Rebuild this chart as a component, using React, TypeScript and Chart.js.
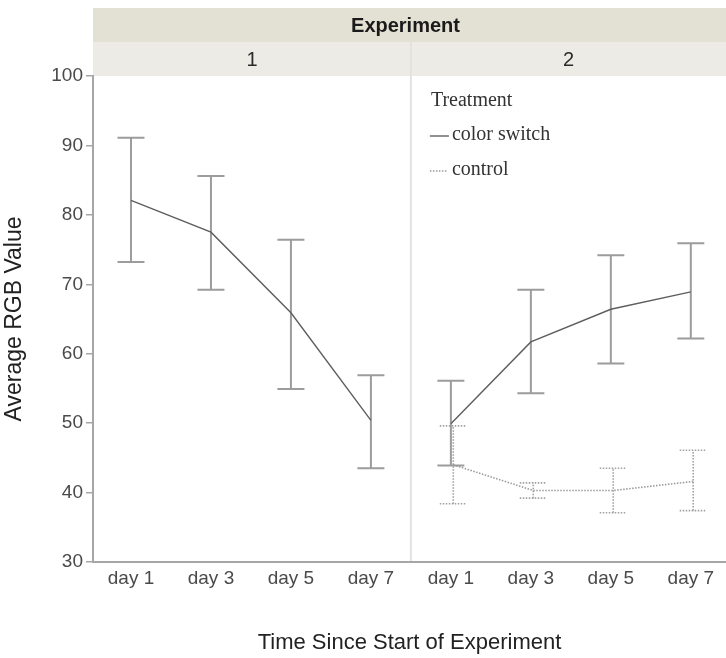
import React, { useEffect, useRef } from 'react';
import { Chart, registerables } from 'chart.js';

Chart.register(...registerables);

// ---- data ----
const days = ['day 1', 'day 3', 'day 5', 'day 7'];
const panels = ['1', '2'];
const stripTitle = 'Experiment';
const legendTitle = 'Treatment';
const treatments = ['color switch', 'control'];

const exp1Switch = [82.1, 77.5, 65.9, 50.4];
const exp1SwitchLow = [73.2, 69.2, 54.9, 43.5];
const exp1SwitchHigh = [91.1, 85.6, 76.4, 56.9];

const exp2Switch = [49.9, 61.7, 66.4, 68.9];
const exp2SwitchLow = [43.9, 54.3, 58.6, 62.2];
const exp2SwitchHigh = [56.1, 69.2, 74.2, 75.9];

const exp2Control = [44.0, 40.3, 40.3, 41.6];
const exp2ControlLow = [38.4, 39.2, 37.1, 37.4];
const exp2ControlHigh = [49.6, 41.4, 43.5, 46.1];

const yTicks = [30, 40, 50, 60, 70, 80, 90, 100];

const SANS = '"Liberation Sans", Arial, Helvetica, sans-serif';
const SERIF = '"Liberation Serif", "Times New Roman", serif';

const pos = (panel: number, i: number, dodge = 0) => panel * days.length + i + 1 + dodge;

const errorBars = {
  id: 'errorBars',
  beforeDatasetsDraw(chart: any) {
    const ctx = chart.ctx;
    const ys = chart.scales.y;
    chart.data.datasets.forEach((ds: any, di: number) => {
      const meta = chart.getDatasetMeta(di);
      ctx.save();
      ctx.strokeStyle = ds.errColor;
      ctx.lineWidth = ds.errWidth;
      ctx.setLineDash(ds.errDash || []);
      meta.data.forEach((pt: any, i: number) => {
        const x = pt.x;
        const yl = ys.getPixelForValue(ds.low[i]);
        const yh = ys.getPixelForValue(ds.high[i]);
        const hw = 13.5;
        ctx.beginPath();
        ctx.moveTo(x, yl);
        ctx.lineTo(x, yh);
        ctx.moveTo(x - hw, yl);
        ctx.lineTo(x + hw, yl);
        ctx.moveTo(x - hw, yh);
        ctx.lineTo(x + hw, yh);
        ctx.stroke();
      });
      ctx.restore();
    });
  },
};

const facets = {
  id: 'facets',
  beforeDraw(chart: any) {
    const ctx = chart.ctx;
    const area = chart.chartArea;
    const xs = chart.scales.x;
    const divX = xs.getPixelForValue(days.length + 0.5);
    ctx.save();
    // top strip
    ctx.fillStyle = '#e3e0d4';
    ctx.fillRect(area.left, 8, area.right - area.left, 34);
    ctx.fillStyle = '#1a1a1a';
    ctx.font = `bold 20px ${SANS}`;
    ctx.textAlign = 'center';
    ctx.textBaseline = 'middle';
    ctx.fillText(stripTitle, (area.left + area.right) / 2 - 4, 26);
    // panel strips
    ctx.fillStyle = '#ecebe5';
    ctx.fillRect(area.left, 42, area.right - area.left, area.top - 42);
    ctx.fillStyle = '#2a2a2a';
    ctx.font = `20px ${SANS}`;
    const bounds = [area.left, divX, area.right];
    panels.forEach((p, i) => {
      ctx.fillText(p, (bounds[i] + bounds[i + 1]) / 2, 60);
    });
    // divider
    ctx.strokeStyle = '#e2e2e2';
    ctx.lineWidth = 2;
    ctx.beginPath();
    ctx.moveTo(divX, 42);
    ctx.lineTo(divX, area.bottom);
    ctx.stroke();
    ctx.restore();
  },
  afterDraw(chart: any) {
    const ctx = chart.ctx;
    const xs = chart.scales.x;
    const lx = xs.getPixelForValue(days.length + 0.5) + 19;
    ctx.save();
    ctx.fillStyle = '#333';
    ctx.font = `20px ${SERIF}`;
    ctx.textAlign = 'left';
    ctx.textBaseline = 'middle';
    ctx.fillText(legendTitle, lx + 1, 101);
    ctx.fillText(treatments[0], lx + 22, 135);
    ctx.fillText(treatments[1], lx + 22, 170);
    ctx.strokeStyle = '#555';
    ctx.lineWidth = 1.3;
    ctx.beginPath();
    ctx.moveTo(lx, 136);
    ctx.lineTo(lx + 19, 136);
    ctx.stroke();
    ctx.strokeStyle = '#999';
    ctx.setLineDash([1.5, 1.5]);
    ctx.beginPath();
    ctx.moveTo(lx, 171);
    ctx.lineTo(lx + 18, 171);
    ctx.stroke();
    ctx.restore();
  },
};

export default function App() {
  const ref = useRef<HTMLCanvasElement | null>(null);

  useEffect(() => {
    if (!ref.current) return;
    const solid = {
      borderColor: '#5e5e5e',
      borderWidth: 1.4,
      pointRadius: 0,
      tension: 0,
      errColor: '#9c9c9c',
      errWidth: 2,
    };
    const chart = new Chart(ref.current, {
      type: 'line',
      data: {
        datasets: [
          {
            ...solid,
            label: treatments[0] + ' 1',
            data: exp1Switch.map((v, i) => ({ x: pos(0, i), y: v })),
            low: exp1SwitchLow,
            high: exp1SwitchHigh,
          } as any,
          {
            ...solid,
            label: treatments[0] + ' 2',
            data: exp2Switch.map((v, i) => ({ x: pos(1, i), y: v })),
            low: exp2SwitchLow,
            high: exp2SwitchHigh,
          } as any,
          {
            label: treatments[1] + ' 2',
            data: exp2Control.map((v, i) => ({ x: pos(1, i, 0.03), y: v })),
            low: exp2ControlLow,
            high: exp2ControlHigh,
            borderColor: '#9a9a9a',
            borderWidth: 1.6,
            borderDash: [1.5, 1.5],
            pointRadius: 0,
            tension: 0,
            errColor: '#a0a0a0',
            errWidth: 1.6,
            errDash: [1.5, 1.5],
          } as any,
        ],
      },
      options: {
        animation: false,
        responsive: false,
        devicePixelRatio: 1,
        layout: { padding: { top: 76, left: 0, right: 0, bottom: 0 } },
        plugins: { legend: { display: false }, tooltip: { enabled: false } },
        scales: {
          x: {
            type: 'linear',
            min: 0.525,
            max: 8.44,
            afterFit: (s: any) => {
              s.height = 96;
            },
            afterBuildTicks: (s: any) => {
              s.ticks = [];
              panels.forEach((_, p) => days.forEach((__, i) => s.ticks.push({ value: pos(p, i) })));
            },
            ticks: {
              autoSkip: false,
              maxRotation: 0,
              padding: 5,
              color: '#4a4a4a',
              font: { family: SANS, size: 19 },
              callback: (v: any) => days[(Math.round(v) - 1) % days.length],
            },
            grid: { display: false, drawTicks: false },
            border: { display: true, color: '#a6a6a6', width: 2 },
            title: {
              display: true,
              text: 'Time Since Start of Experiment',
              color: '#222',
              font: { family: SANS, size: 22 },
              padding: { top: 0, bottom: 2 },
            },
          },
          y: {
            min: 30,
            max: 100,
            afterFit: (s: any) => {
              s.width = 93;
            },
            afterBuildTicks: (s: any) => {
              s.ticks = yTicks.map((v) => ({ value: v }));
            },
            ticks: {
              padding: 3,
              color: '#4a4a4a',
              font: { family: SANS, size: 19 },
            },
            grid: {
              drawOnChartArea: false,
              drawTicks: true,
              tickLength: 7,
              color: '#a6a6a6',
              lineWidth: 1.5,
            },
            border: { display: true, color: '#a6a6a6', width: 2 },
            title: {
              display: true,
              text: 'Average RGB Value',
              color: '#222',
              font: { family: SANS, size: 23 },
              padding: { top: 1, bottom: 0 },
            },
          },
        },
      },
      plugins: [errorBars, facets],
    } as any);
    return () => chart.destroy();
  }, []);

  return (
    <div style={{ position: 'fixed', left: 0, top: 0, width: 726, height: 658, background: '#fff' }}>
      <canvas ref={ref} width={726} height={658} style={{ display: 'block' }} />
    </div>
  );
}
